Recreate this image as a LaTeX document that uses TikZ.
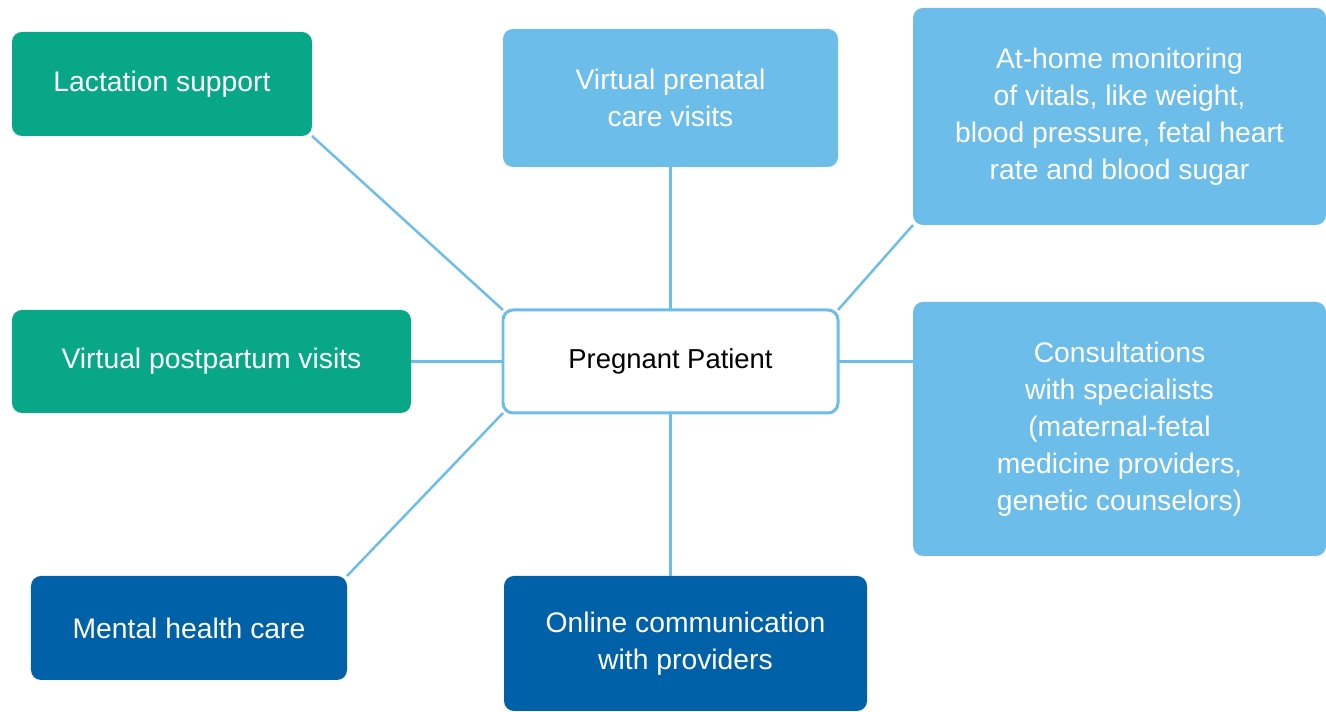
\documentclass[tikz,border=0pt]{standalone}
\usepackage{fontspec}
\setmainfont{Liberation Sans}
\usepackage{tikz}
\usetikzlibrary{calc}
\definecolor{leafgreen}{HTML}{07A787}
\definecolor{leaflight}{HTML}{6CBDE9}
\definecolor{leafdark}{HTML}{0061A8}
\tikzset{leaf labels/.style={font=\fontsize{16.1}{21}\selectfont,align=center,text=white}}
\tikzset{leaf box/.style={rectangle,rounded corners=0.2cm,inner sep=1mm,outer sep=0pt,leaf labels}}
\tikzset{green leaf/.style={leaf box,fill=leafgreen}}
\tikzset{light leaf/.style={leaf box,fill=leaflight}}
\tikzset{dark leaf/.style={leaf box,fill=leafdark}}
\tikzset{hub box/.style={leaf box,draw=leaflight,line width=1.7pt,fill=white,text=black,font=\fontsize{15.6}{21}\selectfont}}
\tikzset{spoke/.style={draw=leaflight,line width=1.4pt}}

\begin{document}
\begin{tikzpicture}
                    \useasboundingbox (0,0) rectangle (26.52,14.24);
                    \node[hub box, minimum width=6.7cm, minimum height=2.06cm](Hub) at (13.41,7.01) {Pregnant Patient};

                    \node[green leaf, minimum width=6cm, minimum height=2.08cm](Lact) at (3.24,12.56) {Lactation support};
                    \node[green leaf, minimum width=7.98cm, minimum height=2.06cm](Post) at (4.23,7.01) {Virtual postpartum visits};
                    \node[dark leaf, minimum width=6.32cm, minimum height=2.08cm](Mental) at (3.78,1.68) {Mental health care};

                    \node[light leaf, minimum width=6.7cm, minimum height=2.76cm](Prenatal) at (13.41,12.28) {Virtual prenatal\\care visits};
                    \node[dark leaf, minimum width=7.26cm, minimum height=2.7cm](Online) at (13.71,1.37) {Online communication\\with providers};

                    \node[light leaf, minimum width=8.26cm, minimum height=4.34cm](Home) at (22.39,11.91) {At-home monitoring\\of vitals, like weight,\\blood pressure, fetal heart\\rate and blood sugar};
                    \node[light leaf, minimum width=8.26cm, minimum height=5.08cm](Consult) at (22.39,5.66) {Consultations\\with specialists\\(maternal-fetal\\medicine providers,\\genetic counselors)};

                    \path[spoke] (Lact.south east) -- (Hub.north west);
                    \path[spoke] (Prenatal.south) -- (Hub.north);
                    \path[spoke] (Home.south west) -- (Hub.north east);
                    \path[spoke] (Post.east) -- (Hub.west);
                    \path[spoke] (Hub.east) -- (Hub.east -| Consult.west);
                    \path[spoke] (Mental.north east) -- (Hub.south west);
                    \path[spoke] (Hub.south) -- (Hub.south |- Online.north);
                    %\path[spoke] (Hub.south) -- (Online.north);

                \end{tikzpicture}
\end{document}
